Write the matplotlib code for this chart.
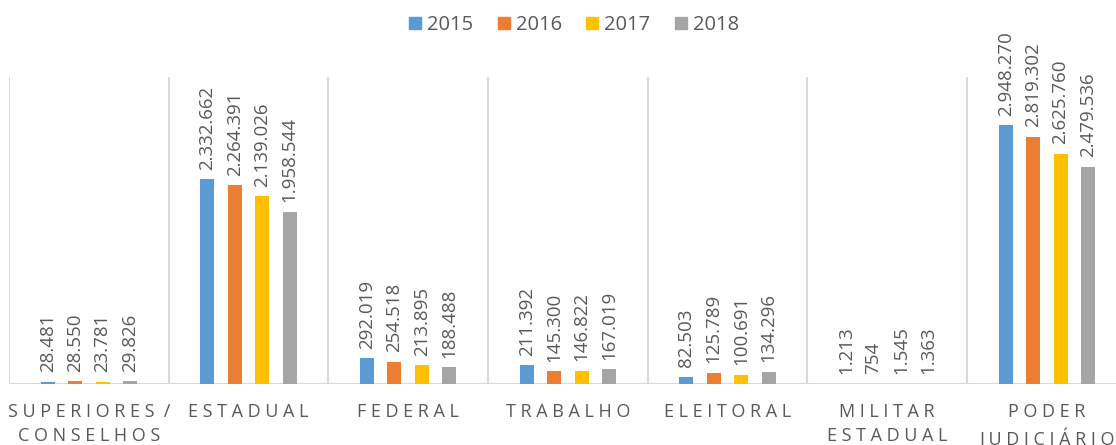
import matplotlib.pyplot as plt
from matplotlib.patches import Patch
from matplotlib.transforms import blended_transform_factory

# Data
categories = ["SUPERIORES /\nCONSELHOS", "ESTADUAL", "FEDERAL", "TRABALHO",
              "ELEITORAL", "MILITAR\nESTADUAL", "PODER\nJUDICIÁRIO"]
years = ["2015", "2016", "2017", "2018"]
v2015 = [28481, 2332662, 292019, 211392, 82503, 1213, 2948270]
v2016 = [28550, 2264391, 254518, 145300, 125789, 754, 2819302]
v2017 = [23781, 2139026, 213895, 146822, 100691, 1545, 2625760]
v2018 = [29826, 1958544, 188488, 167019, 134296, 1363, 2479536]
series = [v2015, v2016, v2017, v2018]
colors = ["#5B9BD5", "#ED7D31", "#FFC000", "#A5A5A5"]

TEXT = "#595959"
GRID = "#D9D9D9"
FONT = "Open Sans"


def fmt(v):
    # brazilian thousands separator
    return f"{v:,}".replace(",", ".")


def spaced(label):
    # fake letter spacing
    out = "\n".join(" ".join(line) for line in label.split("\n"))
    return out.replace("   ", "  ")


fig = plt.figure(figsize=(11.16, 4.45), dpi=100)
W, H = 1116, 445
ax = fig.add_axes([9 / W, 61 / H, 1117.7 / W, 307 / H])

n = len(categories)
pitch = 0.172
width = 0.088
offsets = [(i - 1.5) * pitch for i in range(len(series))]

for s, vals in enumerate(series):
    xs = [i + offsets[s] for i in range(n)]
    ax.bar(xs, vals, width=width, color=colors[s], zorder=3)
    for x, v in zip(xs, vals):
        ax.annotate(fmt(v), (x, v), xytext=(0, 7), textcoords="offset points",
                    rotation=90, ha="center", va="bottom",
                    fontsize=13.5, color=TEXT, family=FONT)

ax.set_xlim(-0.5, n - 0.5)
ax.set_ylim(0, 3.5e6)

# separators between categories
ax.vlines([i - 0.5 for i in range(n)], 0, 3.5e6, color=GRID, lw=1.5, zorder=1)
ax.axhline(0, color=GRID, lw=1.5, zorder=2)

for sp in ax.spines.values():
    sp.set_visible(False)
ax.set_yticks([])
ax.set_xticks([])

trans = blended_transform_factory(ax.transData, ax.transAxes)
for i, c in enumerate(categories):
    ax.text(i, -19 / 307, spaced(c), transform=trans, ha="center", va="top",
            fontsize=13, color=TEXT, family=FONT, linespacing=1.45)

handles = [Patch(color=c) for c in colors]
fig.legend(handles, years, loc="center", bbox_to_anchor=(574 / W, 1 - 25 / H),
           ncol=4, frameon=False, handlelength=0.6, handleheight=0.6,
           handletextpad=0.3, columnspacing=1.2,
           prop={"family": FONT, "size": 14.5}, labelcolor=TEXT)

fig.savefig("out.png", dpi=100)
